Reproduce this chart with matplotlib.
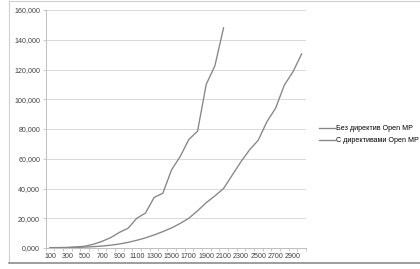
import matplotlib
matplotlib.use("Agg")
import matplotlib.pyplot as plt
from matplotlib.lines import Line2D

plt.rcParams['font.family'] = ['Liberation Sans', 'DejaVu Sans']

# Размеры задачи (категории по оси X)
sizes = list(range(100, 3100, 100))

# Время без директив Open MP (есть только до 2100)
no_omp = [200, 300, 400, 700, 1200, 2500, 4500, 7000, 10500, 13300,
          20000, 23500, 34000, 36800, 52500, 61500, 73000, 78500, 110000, 122500,
          148000]

# Время с директивами Open MP
with_omp = [100, 150, 250, 400, 600, 900, 1300, 1900, 2700, 3800,
            5200, 6800, 8800, 11000, 13500, 16500, 20000, 25000, 30500, 35000,
            40000, 49000, 58000, 66000, 72500, 85000, 94000, 109500, 118500, 130500]

y_ticks = [0, 20000, 40000, 60000, 80000, 100000, 120000, 140000, 160000]
y_labels = ["0,000", "20,000", "40,000", "60,000", "80,000",
            "100,000", "120,000", "140,000", "160,000"]

labels = ["Без директив Open MP", "С директивами Open MP"]

fig = plt.figure(figsize=(4.2, 2.69), dpi=100)
ax = fig.add_axes([45.7 / 420, 21 / 269, (306 - 45.7) / 420, 238 / 269])

idx1 = list(range(len(no_omp)))
idx2 = list(range(len(with_omp)))
ax.plot(idx1, no_omp, color="#858585", linewidth=0.95, label=labels[0])
ax.plot(idx2, with_omp, color="#858585", linewidth=0.95, label=labels[1])

ax.set_xlim(-0.5, len(sizes) - 0.5)
ax.set_ylim(0, 160000)

# Сетка и оси
ax.set_yticks(y_ticks)
ax.set_yticklabels(y_labels, fontsize=5.1, color="#404040")
ax.grid(axis="y", color="#d9d9d9", linewidth=0.7)
ax.set_axisbelow(True)

ax.set_xticks([i - 0.5 for i in range(len(sizes) + 1)])
ax.set_xticklabels([])
ax.set_xticks(list(range(0, len(sizes), 2)), minor=True)
ax.set_xticklabels([str(s) for s in sizes[::2]], minor=True, fontsize=5.1, color="#404040")
ax.tick_params(axis="x", which="major", length=2, width=0.6, color="#bfbfbf")
ax.tick_params(axis="x", which="minor", length=0, pad=3.5)
ax.tick_params(axis="y", length=2, width=0.6, color="#bfbfbf", pad=2)

for s in ["top", "right"]:
    ax.spines[s].set_visible(False)
for s in ["left", "bottom"]:
    ax.spines[s].set_color("#bfbfbf")
    ax.spines[s].set_linewidth(0.7)

fig.legend(loc="upper left", bbox_to_anchor=(319 / 420, 1 - 125 / 269),
           frameon=False, fontsize=5.1, handlelength=2.3, handletextpad=0.15,
           labelspacing=0.75, borderpad=0, borderaxespad=0)

# Рамка области диаграммы
fig.add_artist(Line2D([9 / 420, 9 / 420], [1 - 1 / 269, 1 - 263 / 269],
                      color="#d0d0d0", linewidth=0.8))
fig.add_artist(Line2D([9 / 420, 1], [1 - 1 / 269, 1 - 1 / 269],
                      color="#d0d0d0", linewidth=0.8))
fig.add_artist(Line2D([9 / 420, 1], [1 - 263 / 269, 1 - 263 / 269],
                      color="#8c8c8c", linewidth=1.2))

fig.savefig("out.png", dpi=100)
